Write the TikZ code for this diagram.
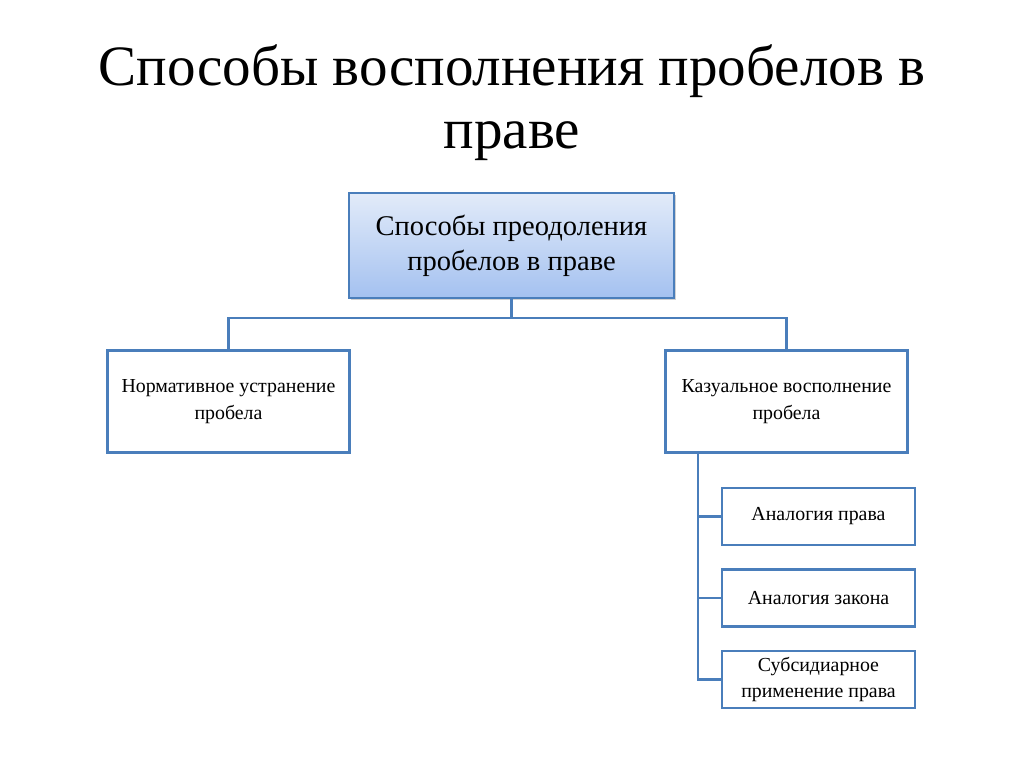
\documentclass[tikz,border=0pt]{standalone}
\usepackage{fontspec}
\setmainfont{Liberation Serif}
\usetikzlibrary{shadows}
\definecolor{edge}{HTML}{4A7EBB}
\definecolor{topc}{HTML}{E2EBF9}
\definecolor{botc}{HTML}{A4C1F0}
\tikzset{
  px/.style={x=0.75pt,y=-0.75pt},
  mainbox/.style={draw=edge,line width=2.2pt,top color=topc,bottom color=botc,
    minimum width=243.75pt,minimum height=78.75pt,align=center,
    font=\fontsize{21.4}{26.2}\selectfont,inner sep=0pt,
    drop shadow={shadow xshift=1.5pt,shadow yshift=-1.5pt,opacity=0.35}},
  subbox/.style={draw=edge,line width=2.1pt,fill=white,align=center,inner sep=0pt,
    font=\fontsize{14.9}{20}\selectfont},
  conn/.style={draw=edge,line width=2pt},
}
\begin{document}
\begin{tikzpicture}[px]
\useasboundingbox (0,0) rectangle (1024,767);
\fill[white] (0,0) rectangle (1024,767);
\node[align=center,font=\fontsize{42.8}{47.2}\selectfont] (title) at (512,103)
  {Способы восполнения пробелов в\\праве};
\node[mainbox] (root) at (511.5,245.5) {Способы преодоления\\пробелов в праве};
\node[subbox,minimum width=182pt,minimum height=77pt] (norm) at (228.5,401.5)
  {Нормативное устранение\\пробела};
\node[subbox,minimum width=182pt,minimum height=77pt] (kaz) at (786.5,401.5)
  {Казуальное восполнение\\пробела};
\node[subbox,minimum width=144.75pt,minimum height=42.75pt] (a1) at (818.5,516.5)
  {Аналогия права};
\node[subbox,minimum width=144.75pt,minimum height=42.75pt] (a2) at (818.5,598)
  {Аналогия закона};
\node[subbox,minimum width=144.75pt,minimum height=42.75pt] (a3) at (818.5,679.5)
  {Субсидиарное\\применение права};
\coordinate (busy) at (0,318);
\coordinate (trunk) at (698,0);
\draw[conn] (root.south) -- (root.south |- busy);
\draw[conn] (norm.north) |- (root.south |- busy) -| (kaz.north);
\draw[conn] (kaz.south -| trunk) |- (a3.west);
\draw[conn] (a1.west) -- (a1.west -| trunk);
\draw[conn] (a2.west) -- (a2.west -| trunk);
\end{tikzpicture}
\end{document}
